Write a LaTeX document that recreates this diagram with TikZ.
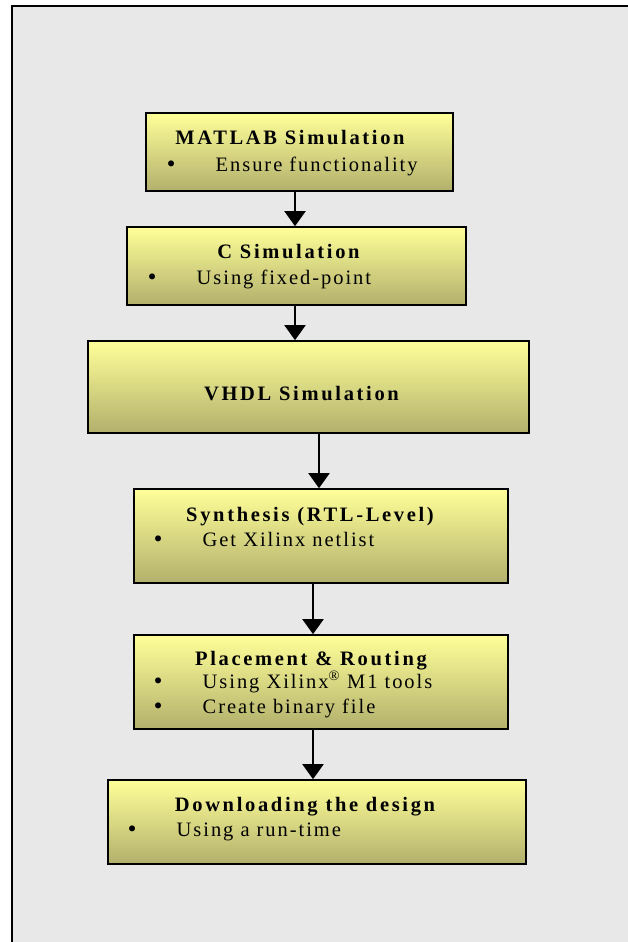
\documentclass[tikz,border=0pt]{standalone}
\usepackage{fontspec}
\usepackage{tikz}
\usetikzlibrary{arrows.meta}
\usetikzlibrary{positioning}
\newfontfamily\titlefont{Liberation Serif}[LetterSpace=13]
\newfontfamily\itemfont{Liberation Serif}[LetterSpace=9.5]
\newfontfamily\bulletfont{DejaVu Sans}
\definecolor{panelgray}{RGB}{232,232,232}
\definecolor{boxtop}{RGB}{255,255,153}
\definecolor{boxbottom}{RGB}{178,176,108}
\newcommand{\dotmark}{\makebox[50.5pt][l]{\bulletfont •}}

\begin{document}
\begin{tikzpicture}[x=1pt, y=-1pt,
    stage/.style={draw, line width=1.6pt, top color=boxtop, bottom color=boxbottom, inner sep=0pt},
    title/.style={anchor=base, inner sep=0pt, font=\titlefont\bfseries\fontsize{20.5}{24}\selectfont},
    item/.style={anchor=base west, inner sep=0pt, font=\itemfont\fontsize{20.5}{24}\selectfont}]
          \useasboundingbox (0,0) rectangle (628,942);
          \fill[panelgray] (12,6) rectangle (628,942);
          \draw[line width=2.2pt] (12,942) -- (12,6) -- (628,6);

          \node[stage, minimum width=307pt, minimum height=78pt] (matlab) at (299.5,152) {};
          \node[title] (matlabT) at (290,144) {MATLAB Simulation};
          \node[item] (matlabI) at (165,171) {\dotmark Ensure functionality};

          \node[stage, minimum width=339pt, minimum height=78pt] (csim) at (296.5,266) {};
          \node[title] (csimT) at (288.5,258) {C Simulation};
          \node[item] (csimI) at (146,284) {\dotmark Using fixed-point};

          \node[stage, minimum width=441pt, minimum height=92pt] (vhdl) at (308.5,387) {};
          \node[title] (vhdlT) at (301.5,400) {VHDL Simulation};

          \node[stage, minimum width=374pt, minimum height=94pt] (synth) at (321,536) {};
          \node[title] (synthT) at (310,521) {Synthesis (RTL-Level)};
          \node[item] (synthI) at (152,546) {\dotmark Get Xilinx netlist};

          \node[stage, minimum width=374pt, minimum height=94pt] (place) at (321,682) {};
          \node[title] (placeT) at (311,665) {Placement \& Routing};
          \node[item] (placeI) at (152,688) {\dotmark Using Xilinx\textsuperscript{\textregistered} M1 tools};
          \node[item] (placeJ) at (152,713) {\dotmark Create binary file};

          \node[stage, minimum width=418pt, minimum height=84pt] (download) at (317,822) {};
          \node[title] (downloadT) at (305,811) {Downloading the design};
          \node[item] (downloadI) at (126,836) {\dotmark Using a run-time};

          \draw[line width=1.8pt, -{Triangle[width=21pt,length=15pt]}] (matlab.south -| 295,0) -- (csim.north -| 295,0);
          \draw[line width=1.8pt, -{Triangle[width=21pt,length=15pt]}] (csim.south -| 295,0) -- (vhdl.north -| 295,0);
          \draw[line width=1.8pt, -{Triangle[width=21pt,length=15pt]}] (vhdl.south -| 319,0) -- (synth.north -| 319,0);
          \draw[line width=1.8pt, -{Triangle[width=21pt,length=15pt]}] (synth.south -| 313,0) -- (place.north -| 313,0);
          \draw[line width=1.8pt, -{Triangle[width=21pt,length=15pt]}] (place.south -| 313,0) -- (download.north -| 313,0);
        \end{tikzpicture}
\end{document}
